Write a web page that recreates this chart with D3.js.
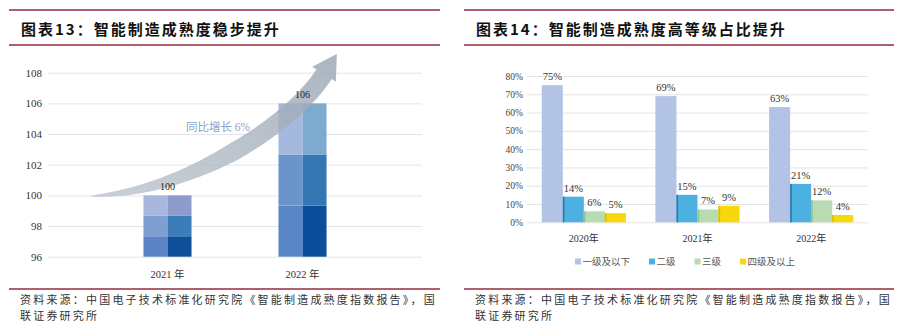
<!DOCTYPE html>
<html><head><meta charset="utf-8">
<script src="https://cdn.jsdelivr.net/npm/d3@7"></script>
<style>
body{margin:0;background:#fff;}
svg{display:block;}
.serif{font-family:"Liberation Serif","Times New Roman","DejaVu Serif","Noto Sans CJK SC",serif;}
.cjk{font-family:"Noto Sans CJK SC","Noto Sans",sans-serif;}
</style></head><body>
<svg id="c" width="904" height="332"></svg>
<script>
// ---- Figure 13: maturity index ----
const indexYears = ["2021 年", "2022 年"];
const indexValues = [100, 106];
const indexTicks = [96, 98, 100, 102, 104, 106, 108];
const growthLabel = "同比增长 6%";

// ---- Figure 14: share of maturity levels ----
const shareYears = ["2020年", "2021年", "2022年"];
const levelNames = ["一级及以下", "二级", "三级", "四级及以上"];
const level1 = [75, 69, 63];
const level2 = [14, 15, 21];
const level3 = [6, 7, 12];
const level4 = [5, 9, 4];
const shareTicks = [0, 10, 20, 30, 40, 50, 60, 70, 80];

const titles = ["图表13：智能制造成熟度稳步提升", "图表14：智能制造成熟度高等级占比提升"];
const sourceLines = ["资料来源：中国电子技术标准化研究院《智能制造成熟度指数报告》，国", "联证券研究所"];

const svg = d3.select("#c");
const RED = "#962a3c";

// ---- panel frames: rules, title, source note ----
function frame(x0, x1, title) {
  const g = svg.append("g");
  [10, 45, 289].forEach(y => g.append("line")
    .attr("x1", x0).attr("x2", x1).attr("y1", y).attr("y2", y)
    .attr("stroke", RED).attr("stroke-width", 1.3));
  g.append("text").attr("class", "cjk").attr("x", x0 + 12).attr("y", 35)
    .style("font-weight", 700).style("font-size", "15px")
    .style("letter-spacing", "2px").attr("fill", "#111").text(title);
  sourceLines.forEach((s, i) => g.append("text").attr("class", "cjk")
    .attr("x", x0 + 11).attr("y", 304 + i * 16)
    .style("font-size", "11px").style("letter-spacing", "2.2px")
    .attr("fill", "#333").text(s));
}
frame(9, 440, titles[0]);
frame(464, 894, titles[1]);

// ---- Figure 13 chart ----
(function () {
  const L = 48, R = 422;
  const x = d3.scaleBand().domain(indexYears).range([L, R]).paddingInner(0.644).paddingOuter(0.707);
  const y = d3.scaleLinear().domain([96, 108]).range([256.7, 72.7]);

  const ax = svg.append("g").attr("transform", `translate(${L},0)`)
    .call(d3.axisLeft(y).tickValues(indexTicks).tickSize(-(R - L)).tickPadding(6));
  ax.select(".domain").remove();
  ax.selectAll(".tick line").attr("stroke", "#e2e6ec");
  ax.selectAll(".tick text").attr("class", "serif").style("font-size", "11px").attr("fill", "#333");

  // each bar is shown as three tiers, two tone columns per tier
  const tones = {
    "2021 年": [["#5b84c6", "#7f9fd3", "#a9b7de"], ["#0f4f99", "#3b7db8", "#8f9ccb"]],
    "2022 年": [["#5a86c7", "#6b93cc", "#a5b9df"], ["#0b4f9a", "#3577b3", "#7faad0"]]
  };
  const base = y.domain()[0];
  indexYears.forEach((yr, i) => {
    const v = indexValues[i];
    const step = (v - base) / 3;
    const bw = x.bandwidth() / 2;
    for (let c = 0; c < 2; c++) {
      for (let k = 0; k < 3; k++) {
        const lo = base + step * k, hi = base + step * (k + 1);
        svg.append("rect")
          .attr("x", x(yr) + c * bw).attr("width", bw)
          .attr("y", y(hi)).attr("height", y(lo) - y(hi))
          .attr("fill", tones[yr][c][k]);
      }
    }
  });

  // growth arrow, laid out in plot units
  const px = f => L + f * (R - L);
  const P0 = [px(0.112), y(99.95)], P1 = [px(0.38), y(100.2)],
        P2 = [px(0.655), y(104.7)], P3 = [px(0.738), y(107.9)];
  const bez = t => { const u = 1 - t;
    return [u*u*u*P0[0] + 3*u*u*t*P1[0] + 3*u*t*t*P2[0] + t*t*t*P3[0],
            u*u*u*P0[1] + 3*u*u*t*P1[1] + 3*u*t*t*P2[1] + t*t*t*P3[1]]; };
  const der = t => { const u = 1 - t;
    return [3*u*u*(P1[0]-P0[0]) + 6*u*t*(P2[0]-P1[0]) + 3*t*t*(P3[0]-P2[0]),
            3*u*u*(P1[1]-P0[1]) + 6*u*t*(P2[1]-P1[1]) + 3*t*t*(P3[1]-P2[1])]; };
  const hw = t => 9 * Math.pow(Math.min(1, t / 0.5), 0.7);
  const top = [], bot = [];
  for (let i = 0; i <= 80; i++) {
    const t = i / 80, p = bez(t), d = der(t);
    const n = Math.hypot(d[0], d[1]), nx = -d[1] / n, ny = d[0] / n;
    top.push([p[0] - nx * hw(t), p[1] - ny * hw(t)]);
    bot.push([p[0] + nx * hw(t), p[1] + ny * hw(t)]);
  }
  const dE = der(1), nE = Math.hypot(dE[0], dE[1]);
  const tx = dE[0] / nE, ty = dE[1] / nE;
  const headW = 14, headL = 24;
  const tip = [P3[0] + tx * headL, P3[1] + ty * headL];
  const w1 = [P3[0] + ty * headW, P3[1] - tx * headW];
  const w2 = [P3[0] - ty * headW, P3[1] + tx * headW];
  const pts = top.concat([w1, tip, w2]).concat(bot.slice().reverse());

  const defs = svg.append("defs");
  const grad = defs.append("linearGradient").attr("id", "arrowGrad")
    .attr("x1", "0").attr("y1", "1").attr("x2", "1").attr("y2", "0");
  grad.append("stop").attr("offset", "0").attr("stop-color", "#bcc4cd");
  grad.append("stop").attr("offset", "1").attr("stop-color", "#97a4b2");
  svg.append("path").attr("d", d3.line()(pts) + "Z")
    .attr("fill", "url(#arrowGrad)").attr("opacity", 0.8);

  // value labels
  indexYears.forEach((yr, i) => {
    svg.append("text").attr("class", "serif")
      .attr("x", x(yr) + x.bandwidth() / 2).attr("y", y(indexValues[i]) - 5)
      .attr("text-anchor", "middle").style("font-size", "10px")
      .attr("fill", "#222").text(indexValues[i]);
  });
  svg.append("text").attr("class", "serif").attr("x", 218).attr("y", 131).attr("text-anchor", "middle")
    .style("font-size", "11.5px").attr("fill", "#8ea3c8").text(growthLabel);

  // category labels
  const xa = svg.append("g").attr("transform", `translate(0,${y(96)})`)
    .call(d3.axisBottom(x).tickSize(0).tickPadding(14));
  xa.select(".domain").remove();
  xa.selectAll(".tick text").attr("class", "serif").style("font-size", "10.5px").attr("fill", "#333");
})();

// ---- Figure 14 chart ----
(function () {
  const L = 527, R = 868;
  const x0 = d3.scaleBand().domain(shareYears).range([L, R]).paddingInner(0.26).paddingOuter(0.13);
  const x1 = d3.scaleBand().domain(levelNames).range([0, x0.bandwidth()]);
  const y = d3.scaleLinear().domain([0, 80]).range([222.3, 76]);
  const color = d3.scaleOrdinal().domain(levelNames).range(["#b3c3e5", "#4cb0e0", "#b8dbb2", "#f6d80c"]);
  const edge = d3.scaleOrdinal().domain(levelNames).range(["#a3b4da", "#2a78aa", "#95c190", "#dcbc00"]);
  const series = [level1, level2, level3, level4];

  const ax = svg.append("g").attr("transform", `translate(${L},0)`)
    .call(d3.axisLeft(y).tickValues(shareTicks).tickSize(-(R - L)).tickPadding(4).tickFormat(d => d + "%"));
  ax.select(".domain").remove();
  ax.selectAll(".tick line").attr("stroke", "#e3e3e3");
  ax.selectAll(".tick text").attr("class", "serif").style("font-size", "9.5px").attr("fill", "#444");

  const rows = [];
  shareYears.forEach((yr, i) => levelNames.forEach((lv, j) => rows.push({ yr, lv, v: series[j][i], j })));

  const g = svg.append("g");
  g.selectAll("rect.bar").data(rows).join("rect").attr("class", "bar")
    .attr("x", d => x0(d.yr) + x1(d.lv)).attr("width", x1.bandwidth())
    .attr("y", d => y(d.v)).attr("height", d => y(0) - y(d.v))
    .attr("fill", d => color(d.lv));
  g.selectAll("rect.edge").data(rows.filter(d => d.j > 0)).join("rect").attr("class", "edge")
    .attr("x", d => x0(d.yr) + x1(d.lv)).attr("width", 1.6)
    .attr("y", d => y(d.v)).attr("height", d => y(0) - y(d.v))
    .attr("fill", d => edge(d.lv));
  g.selectAll("text.val").data(rows).join("text").attr("class", "val serif")
    .attr("x", d => x0(d.yr) + x1(d.lv) + x1.bandwidth() / 2).attr("y", d => y(d.v) - 5)
    .attr("text-anchor", "middle").style("font-size", "10.5px")
    .attr("fill", "#333").text(d => d.v + "%");

  const xa = svg.append("g").attr("transform", `translate(0,${y(0)})`)
    .call(d3.axisBottom(x0).tickSize(0).tickPadding(13));
  xa.select(".domain").remove();
  xa.selectAll(".tick text").attr("class", "serif").style("font-size", "10px").attr("fill", "#333");

  // legend
  const lg = svg.append("g").attr("transform", "translate(575,262)");
  let cx = 0;
  levelNames.forEach(name => {
    lg.append("rect").attr("x", cx).attr("y", -3.5).attr("width", 6).attr("height", 6).attr("fill", color(name));
    const t = lg.append("text").attr("class", "cjk").attr("x", cx + 7.5).attr("y", 3.3)
      .style("font-size", "9.5px").attr("fill", "#555").text(name);
    cx += 7.5 + t.node().getComputedTextLength() + 19;
  });
})();
</script>
</body></html>
